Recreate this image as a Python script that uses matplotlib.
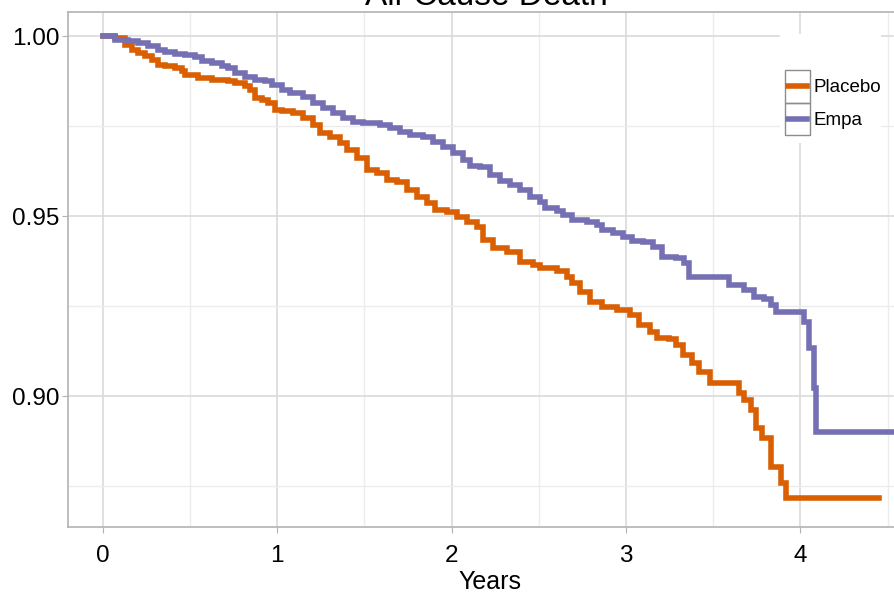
import numpy as np
import matplotlib
matplotlib.use('Agg')  # no UI backend
import matplotlib.pyplot as plt
from matplotlib.patches import Rectangle
from matplotlib.legend_handler import HandlerLine2D
from matplotlib.ticker import MultipleLocator

plt.rcParams['font.family'] = ['Liberation Sans', 'DejaVu Sans']

# Kaplan-Meier step curves: time of each drop (years) and survival after it
placebo_t = [0.0, 0.069, 0.126, 0.166, 0.201, 0.241, 0.281, 0.315, 0.355, 0.413,
             0.453, 0.470, 0.544, 0.625, 0.716, 0.756, 0.814, 0.842, 0.871, 0.911,
             0.946, 0.986, 1.026, 1.089, 1.146, 1.203, 1.244, 1.301, 1.358, 1.398,
             1.456, 1.513, 1.570, 1.628, 1.685, 1.742, 1.799, 1.857, 1.903, 1.971,
             2.029, 2.086, 2.143, 2.178, 2.235, 2.315, 2.390, 2.464, 2.504, 2.602,
             2.659, 2.693, 2.734, 2.791, 2.865, 2.946, 3.020, 3.077, 3.135, 3.175,
             3.249, 3.289, 3.324, 3.381, 3.421, 3.479, 3.650, 3.679, 3.719, 3.748,
             3.777, 3.834, 3.891, 3.920, 4.453]
placebo_s = [1.0, 0.9994, 0.9975, 0.9961, 0.9953, 0.9944, 0.9933, 0.9919, 0.9917, 0.9911,
             0.9903, 0.9892, 0.9883, 0.9878, 0.9875, 0.9869, 0.9861, 0.9850, 0.9828, 0.9822,
             0.9814, 0.9794, 0.9792, 0.9786, 0.9772, 0.9753, 0.9731, 0.9719, 0.9703, 0.9683,
             0.9661, 0.9628, 0.9619, 0.9600, 0.9594, 0.9572, 0.9553, 0.9536, 0.9517, 0.9511,
             0.9497, 0.9483, 0.9469, 0.9433, 0.9411, 0.9400, 0.9372, 0.9364, 0.9356, 0.9347,
             0.9331, 0.9314, 0.9289, 0.9261, 0.9247, 0.9239, 0.9225, 0.9197, 0.9178, 0.9161,
             0.9158, 0.9142, 0.9114, 0.9092, 0.9067, 0.9036, 0.9008, 0.8989, 0.8961, 0.8911,
             0.8883, 0.8803, 0.8758, 0.8717, 0.8717]

empa_t = [0.0, 0.069, 0.143, 0.201, 0.258, 0.315, 0.355, 0.413, 0.470, 0.527,
          0.567, 0.625, 0.682, 0.716, 0.756, 0.814, 0.871, 0.928, 0.968, 1.026,
          1.072, 1.146, 1.203, 1.261, 1.318, 1.375, 1.433, 1.490, 1.587, 1.645,
          1.702, 1.759, 1.834, 1.891, 1.948, 2.006, 2.063, 2.103, 2.160, 2.218,
          2.275, 2.332, 2.390, 2.447, 2.504, 2.533, 2.602, 2.636, 2.693, 2.774,
          2.831, 2.865, 2.923, 2.980, 3.037, 3.095, 3.152, 3.209, 3.289, 3.335,
          3.364, 3.593, 3.679, 3.736, 3.794, 3.834, 3.862, 4.023, 4.052, 4.080,
          4.092, 4.650]
empa_s = [1.0, 0.9989, 0.9986, 0.9981, 0.9972, 0.9961, 0.9956, 0.9950, 0.9947, 0.9942,
          0.9931, 0.9925, 0.9917, 0.9911, 0.9897, 0.9886, 0.9878, 0.9875, 0.9864, 0.9850,
          0.9842, 0.9831, 0.9814, 0.9800, 0.9786, 0.9772, 0.9761, 0.9758, 0.9753, 0.9744,
          0.9733, 0.9725, 0.9719, 0.9706, 0.9692, 0.9675, 0.9656, 0.9639, 0.9636, 0.9614,
          0.9597, 0.9586, 0.9572, 0.9553, 0.9539, 0.9522, 0.9514, 0.9503, 0.9489, 0.9483,
          0.9475, 0.9461, 0.9453, 0.9442, 0.9431, 0.9428, 0.9414, 0.9386, 0.9383, 0.9369,
          0.9331, 0.9308, 0.9294, 0.9275, 0.9269, 0.9253, 0.9233, 0.9206, 0.9133, 0.9022,
          0.8900, 0.8900]

groups = ['Placebo', 'Empa']
colors = ['#d95f02', '#7570b3']
y_ticks = [0.90, 0.95, 1.00]
x_ticks = [0, 1, 2, 3, 4]


class BoxedKey(HandlerLine2D):
    # legend key drawn as a short line inside a grey box
    def create_artists(self, legend, orig_handle, xdescent, ydescent, width, height, fontsize, trans):
        arts = super().create_artists(legend, orig_handle, xdescent, ydescent, width, height, fontsize, trans)
        ymid = -ydescent + height / 2
        for a in arts:
            a.set_data([-xdescent + 0.13 * width, -xdescent + 0.87 * width], [ymid, ymid])
            a.set_marker('None')
        box = Rectangle((-xdescent, -ydescent), width, height, facecolor='none',
                        edgecolor='#8c8c8c', lw=1.0, transform=trans)
        return [box] + arts


W, H = 894, 595
fig = plt.figure(figsize=(W / 100, H / 100), dpi=100)
ax = fig.add_axes([68 / W, 1 - 527 / H, (912 - 68) / W, (527 - 12) / H])

for t, s, c, g in [(placebo_t, placebo_s, colors[0], groups[0]), (empa_t, empa_s, colors[1], groups[1])]:
    ax.plot(t, s, drawstyle='steps-post', color=c, lw=4.0, label=g, zorder=3,
            solid_joinstyle='miter')

ax.set_xlim(-0.2, 4.64)
ax.set_ylim(0.8636, 1.0067)
ax.set_xticks(x_ticks)
ax.set_yticks(y_ticks)
ax.set_yticklabels([f'{v:.2f}' for v in y_ticks])
ax.xaxis.set_minor_locator(MultipleLocator(0.5))
ax.yaxis.set_minor_locator(MultipleLocator(0.025))
ax.set_axisbelow(True)
ax.grid(which='major', color='#dadada', lw=1.2)
ax.grid(which='minor', color='#ececec', lw=1.0)
for sp in ax.spines.values():
    sp.set_color('#b3b3b3')
    sp.set_linewidth(1.2)
ax.tick_params(which='major', length=4, color='#b3b3b3', labelsize=17.5, labelcolor='black')
ax.tick_params(axis='x', pad=9)
ax.tick_params(axis='y', pad=2)
ax.tick_params(which='minor', length=0)
ax.set_xlabel('Years', fontsize=18, labelpad=2)

# white legend panel covering the grid
ax.add_artist(Rectangle((780 / W, 1 - 143 / H), 101 / W, 109 / H, transform=fig.transFigure,
                        facecolor='white', edgecolor='none', zorder=2, clip_on=False))
leg = ax.legend(loc='upper left', bbox_to_anchor=(785 / W, 1 - 70 / H),
                bbox_transform=fig.transFigure, frameon=False, fontsize=13.5,
                borderpad=0, labelspacing=0, handlelength=1.34, handleheight=2.3,
                handletextpad=0.2, borderaxespad=0,
                handler_map={plt.Line2D: BoxedKey()})
leg.set_zorder(4)

fig.text(486 / W, 1 - 5 / H, 'All-Cause Death', fontsize=24, ha='center', va='baseline')

fig.savefig('out.png', dpi=100)
